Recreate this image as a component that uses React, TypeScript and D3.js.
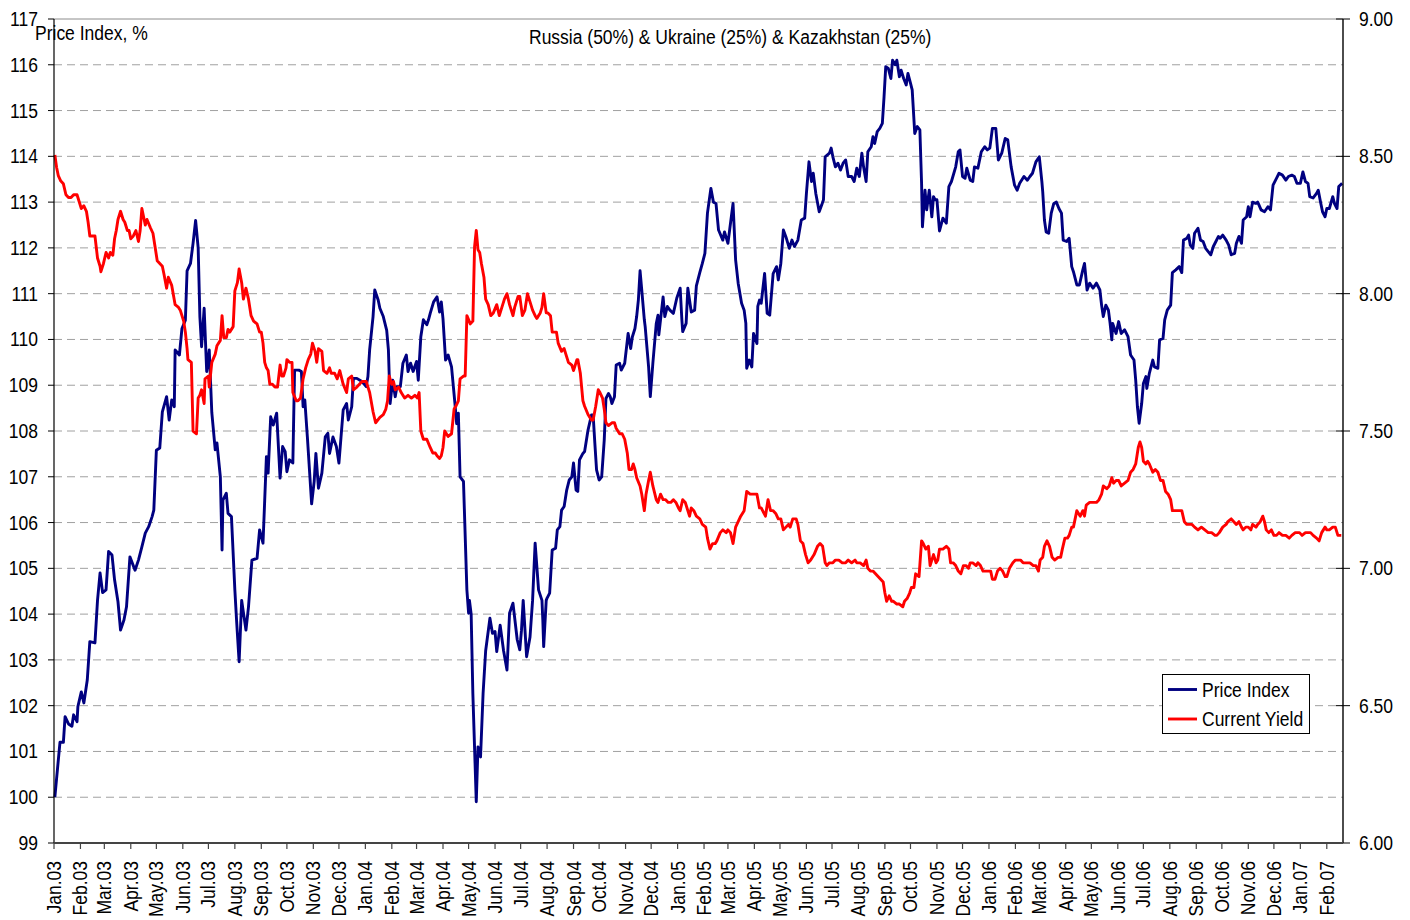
import React from 'react';
import * as d3 from 'd3';

// days since 1 Jan 2003, value
const priceIndexData: [number, number][] = [
  [1, 100.0], [7, 101.2], [11, 101.2], [13, 101.76], [17, 101.6], [21, 101.55], [23, 101.8], [27, 101.65],
  [28, 101.98], [32, 102.3], [35, 102.06], [39, 102.56], [42, 103.4], [48, 103.37], [51, 104.3], [54, 104.9],
  [57, 104.47], [61, 104.53], [64, 105.37], [68, 105.29], [71, 104.75], [75, 104.27], [78, 103.65], [82, 103.87],
  [85, 104.16], [89, 105.25], [95, 104.96], [99, 105.18], [103, 105.47], [107, 105.77], [111, 105.91], [115, 106.13],
  [117, 106.27], [120, 107.58], [124, 107.63], [127, 108.42], [132, 108.75], [135, 108.24], [138, 108.68], [141, 108.53],
  [142, 109.77], [147, 109.66], [150, 110.24], [154, 110.42], [156, 111.5], [160, 111.66], [163, 112.1], [166, 112.6],
  [169, 112.0], [171, 110.5], [173, 109.84], [176, 110.68], [179, 109.3], [182, 109.77], [185, 108.4], [189, 107.59],
  [191, 107.74], [195, 107.0], [197, 105.4], [198, 106.49], [202, 106.64], [204, 106.2], [208, 106.13], [212, 104.53],
  [214, 103.87], [217, 102.96], [220, 104.3], [225, 103.65], [228, 104.16], [232, 105.18], [238, 105.22], [241, 105.84],
  [245, 105.55], [247, 106.49], [249, 107.44], [251, 107.08], [254, 108.31], [257, 108.13], [261, 108.39], [265, 106.97],
  [268, 107.66], [271, 107.55], [273, 107.11], [276, 107.37], [280, 107.3], [282, 109.33], [287, 109.33], [290, 109.3],
  [292, 108.53], [294, 108.68], [297, 107.87], [302, 106.41], [305, 106.9], [307, 107.51], [310, 106.75], [314, 107.08],
  [318, 107.87], [321, 107.95], [323, 107.51], [327, 107.87], [331, 107.66], [334, 107.3], [339, 108.46], [343, 108.6],
  [345, 108.24], [349, 108.53], [351, 109.15], [355, 109.15], [361, 109.08], [366, 108.97], [368, 109.19], [370, 109.77],
  [374, 110.5], [376, 111.08], [380, 110.86], [382, 110.68], [386, 110.5], [390, 110.2], [392, 109.77], [394, 108.6],
  [397, 109.11], [400, 108.75], [402, 108.97], [406, 108.97], [409, 109.48], [413, 109.66], [415, 109.3], [418, 109.48],
  [421, 109.3], [425, 109.52], [427, 109.11], [430, 110.06], [433, 110.43], [437, 110.32], [439, 110.43], [441, 110.57],
  [445, 110.82], [449, 110.93], [452, 110.6], [454, 110.82], [456, 110.45], [459, 109.55], [462, 109.66], [466, 109.4],
  [470, 108.6], [472, 108.16], [474, 108.39], [476, 107.0], [480, 106.9], [484, 104.53], [486, 104.02], [487, 104.3],
  [489, 104.0], [491, 102.26], [495, 99.9], [497, 101.1], [500, 100.88], [503, 102.27], [506, 103.2], [511, 103.91],
  [514, 103.58], [517, 103.62], [519, 103.18], [523, 103.76], [527, 103.2], [531, 102.78], [534, 104.02], [538, 104.24],
  [543, 103.44], [546, 103.22], [548, 103.65], [550, 104.3], [554, 103.07], [558, 103.5], [561, 104.3], [564, 105.55],
  [568, 104.53], [572, 104.3], [573, 103.87], [574, 103.29], [577, 104.3], [578, 104.35], [581, 104.46], [584, 105.4],
  [588, 105.44], [590, 105.84], [593, 105.91], [595, 106.27], [598, 106.35], [601, 106.71], [604, 106.93], [607, 107.0],
  [609, 107.3], [612, 106.71], [614, 106.68], [616, 107.37], [620, 107.51], [622, 107.55], [626, 108.02], [630, 108.35],
  [632, 108.35], [634, 107.73], [636, 107.15], [639, 106.93], [642, 107.0], [645, 107.8], [647, 108.71], [650, 108.82],
  [652, 108.75], [654, 108.6], [657, 108.75], [659, 109.44], [663, 109.48], [665, 109.33], [669, 109.48], [673, 110.13],
  [676, 109.8], [678, 110.06], [681, 110.24], [683, 110.5], [685, 110.86], [687, 111.5], [689, 111.08], [692, 110.43],
  [693, 110.28], [697, 109.4], [699, 108.75], [702, 109.48], [706, 110.35], [708, 110.53], [709, 110.1], [714, 110.93],
  [716, 110.5], [719, 110.72], [722, 110.64], [726, 110.57], [730, 110.9], [734, 111.12], [736, 110.43], [737, 110.17],
  [741, 110.35], [743, 111.12], [747, 110.6], [751, 110.64], [753, 111.17], [757, 111.46], [760, 111.66], [763, 111.88],
  [766, 112.76], [770, 113.3], [773, 113.0], [776, 112.97], [779, 112.39], [784, 112.17], [786, 112.35], [790, 112.1],
  [792, 112.39], [796, 112.97], [799, 111.74], [802, 111.23], [806, 110.79], [809, 110.64], [811, 110.35], [812, 109.37],
  [815, 109.55], [818, 109.4], [820, 110.13], [824, 109.91], [825, 110.72], [827, 110.86], [829, 110.79], [833, 111.44],
  [836, 110.57], [839, 110.53], [843, 111.44], [847, 111.59], [849, 111.3], [852, 111.66], [855, 112.39], [858, 112.24],
  [862, 111.99], [865, 112.17], [868, 112.03], [872, 112.17], [876, 112.61], [880, 112.65], [882, 113.19], [885, 113.88],
  [888, 113.45], [890, 113.63], [893, 113.19], [897, 112.79], [900, 112.94], [902, 113.05], [904, 113.99], [909, 114.07],
  [911, 114.18], [913, 113.99], [916, 113.77], [919, 113.85], [922, 113.7], [925, 113.85], [928, 113.92], [931, 113.56],
  [935, 113.56], [938, 113.45], [941, 113.74], [944, 113.56], [947, 114.07], [949, 113.77], [952, 113.45], [954, 114.1],
  [958, 114.21], [960, 114.43], [962, 114.28], [965, 114.54], [968, 114.61], [971, 114.72], [973, 115.3], [975, 115.96],
  [978, 115.92], [981, 115.7], [983, 116.1], [986, 116.0], [988, 116.1], [991, 115.74], [993, 115.88], [996, 115.7],
  [999, 115.56], [1001, 115.81], [1004, 115.6], [1006, 115.45], [1009, 114.5], [1012, 114.65], [1015, 114.58], [1017, 113.41],
  [1018, 112.46], [1021, 113.26], [1023, 112.83], [1026, 113.26], [1029, 112.68], [1031, 113.12], [1033, 113.05], [1035, 113.05],
  [1038, 112.37], [1042, 112.65], [1046, 112.54], [1049, 113.34], [1052, 113.45], [1057, 113.77], [1060, 114.1], [1062, 114.14],
  [1065, 113.56], [1068, 113.52], [1070, 113.74], [1074, 113.48], [1077, 113.45], [1079, 113.77], [1083, 113.74], [1087, 114.1],
  [1091, 114.21], [1094, 114.14], [1097, 114.18], [1100, 114.61], [1104, 114.61], [1107, 113.92], [1111, 114.07], [1115, 114.39],
  [1118, 114.36], [1122, 113.77], [1126, 113.37], [1129, 113.26], [1132, 113.41], [1137, 113.56], [1141, 113.48], [1144, 113.56],
  [1147, 113.63], [1151, 113.88], [1155, 113.99], [1158, 113.45], [1159, 113.23], [1161, 112.61], [1163, 112.35], [1166, 112.32],
  [1169, 112.76], [1172, 112.97], [1175, 113.0], [1178, 112.86], [1181, 112.76], [1183, 112.17], [1187, 112.14], [1190, 112.21],
  [1193, 111.59], [1195, 111.48], [1199, 111.19], [1202, 111.19], [1206, 111.52], [1208, 111.66], [1211, 111.08], [1214, 111.23],
  [1218, 111.12], [1222, 111.23], [1226, 111.08], [1228, 110.75], [1230, 110.5], [1233, 110.75], [1236, 110.64], [1238, 110.35],
  [1240, 109.99], [1241, 110.35], [1245, 110.13], [1248, 110.39], [1251, 110.13], [1255, 110.21], [1259, 110.06], [1262, 109.66],
  [1266, 109.55], [1268, 109.11], [1270, 108.53], [1272, 108.17], [1275, 108.6], [1277, 109.04], [1280, 109.19], [1281, 108.93],
  [1284, 109.26], [1288, 109.55], [1290, 109.4], [1294, 109.37], [1296, 109.99], [1300, 110.02], [1302, 110.43], [1305, 110.64],
  [1309, 110.75], [1311, 111.46], [1315, 111.52], [1319, 111.59], [1322, 111.46], [1324, 112.17], [1328, 112.21], [1330, 112.28],
  [1332, 112.06], [1335, 111.99], [1337, 112.32], [1341, 112.43], [1344, 112.17], [1347, 112.14], [1350, 111.99], [1353, 111.92],
  [1356, 111.85], [1359, 112.03], [1362, 112.14], [1365, 112.25], [1367, 112.21], [1370, 112.28], [1374, 112.17], [1377, 112.06],
  [1380, 111.85], [1384, 111.88], [1386, 112.1], [1389, 112.25], [1392, 112.1], [1394, 112.61], [1398, 112.68], [1400, 112.9],
  [1402, 112.68], [1405, 113.0], [1409, 112.97], [1411, 113.0], [1415, 112.83], [1419, 112.79], [1423, 112.9], [1426, 112.83],
  [1429, 113.37], [1433, 113.52], [1436, 113.63], [1440, 113.59], [1444, 113.48], [1447, 113.56], [1451, 113.59], [1454, 113.56],
  [1457, 113.41], [1461, 113.41], [1464, 113.66], [1467, 113.45], [1470, 113.41], [1472, 113.12], [1476, 113.09], [1480, 113.19],
  [1482, 113.26], [1485, 112.97], [1487, 112.79], [1490, 112.68], [1492, 112.86], [1495, 112.86], [1499, 113.12], [1501, 112.97],
  [1504, 112.86], [1506, 113.34], [1510, 113.41],
];

const currentYieldData: [number, number][] = [
  [1, 8.505], [3, 8.46], [5, 8.43], [8, 8.41], [11, 8.4], [14, 8.36], [17, 8.35], [20, 8.35], [23, 8.36], [27, 8.36],
  [30, 8.33], [32, 8.31], [35, 8.32], [38, 8.3], [40, 8.26], [42, 8.21], [46, 8.21], [48, 8.21], [51, 8.13], [54, 8.1],
  [55, 8.08], [58, 8.11], [61, 8.15], [64, 8.13], [66, 8.15], [69, 8.14], [71, 8.2], [73, 8.23], [75, 8.27], [78, 8.3],
  [81, 8.27], [83, 8.26], [86, 8.23], [88, 8.23], [90, 8.2], [93, 8.21], [96, 8.23], [99, 8.19], [101, 8.23], [103, 8.31],
  [107, 8.25], [109, 8.27], [113, 8.24], [116, 8.22], [118, 8.18], [121, 8.12], [124, 8.11], [127, 8.1], [129, 8.07], [132, 8.02],
  [134, 8.06], [138, 8.03], [142, 7.96], [146, 7.95], [148, 7.94], [150, 7.92], [152, 7.9], [154, 7.86], [156, 7.8], [157, 7.76],
  [161, 7.75], [163, 7.5], [167, 7.49], [169, 7.62], [171, 7.63], [173, 7.65], [176, 7.6], [177, 7.69], [181, 7.7], [182, 7.66],
  [185, 7.75], [189, 7.78], [191, 7.81], [195, 7.83], [197, 7.92], [199, 7.84], [202, 7.84], [204, 7.87], [206, 7.86], [210, 7.88],
  [212, 8.01], [215, 8.04], [217, 8.09], [220, 8.04], [222, 7.98], [225, 8.02], [228, 7.98], [231, 7.92], [234, 7.9], [238, 7.89],
  [241, 7.86], [243, 7.86], [245, 7.82], [247, 7.75], [249, 7.73], [251, 7.72], [253, 7.67], [256, 7.67], [259, 7.66], [262, 7.66],
  [265, 7.74], [267, 7.7], [269, 7.7], [272, 7.73], [273, 7.76], [276, 7.75], [279, 7.75], [280, 7.64], [284, 7.61], [286, 7.61],
  [289, 7.62], [292, 7.69], [295, 7.73], [298, 7.76], [301, 7.78], [303, 7.82], [306, 7.79], [308, 7.75], [310, 7.8], [314, 7.79],
  [316, 7.72], [320, 7.71], [323, 7.73], [325, 7.71], [329, 7.71], [332, 7.69], [335, 7.72], [339, 7.67], [343, 7.64], [345, 7.69],
  [349, 7.7], [351, 7.65], [355, 7.66], [361, 7.68], [366, 7.68], [370, 7.64], [374, 7.57], [377, 7.53], [382, 7.55], [386, 7.56],
  [389, 7.58], [391, 7.61], [393, 7.7], [396, 7.67], [398, 7.68], [400, 7.65], [404, 7.66], [407, 7.64], [411, 7.62], [415, 7.63],
  [419, 7.62], [423, 7.63], [426, 7.62], [428, 7.64], [430, 7.5], [433, 7.47], [437, 7.47], [441, 7.44], [444, 7.42], [447, 7.42],
  [449, 7.41], [452, 7.4], [454, 7.41], [456, 7.44], [458, 7.5], [462, 7.48], [466, 7.49], [469, 7.58], [471, 7.59], [474, 7.61],
  [476, 7.69], [480, 7.7], [482, 7.7], [484, 7.92], [488, 7.89], [491, 7.9], [493, 8.17], [495, 8.23], [497, 8.16], [499, 8.15],
  [501, 8.11], [504, 8.06], [506, 7.98], [509, 7.96], [512, 7.92], [515, 7.93], [519, 7.96], [522, 7.92], [525, 7.95], [528, 7.98],
  [531, 8.0], [534, 7.96], [538, 7.92], [540, 7.95], [544, 7.99], [546, 7.99], [549, 7.92], [552, 7.94], [555, 8.0], [558, 7.97],
  [561, 7.94], [564, 7.92], [566, 7.91], [570, 7.93], [572, 7.95], [574, 8.0], [577, 7.93], [579, 7.93], [582, 7.92], [584, 7.86],
  [589, 7.86], [591, 7.82], [595, 7.79], [598, 7.8], [601, 7.77], [603, 7.75], [607, 7.74], [609, 7.72], [613, 7.76], [614, 7.76],
  [617, 7.71], [620, 7.61], [622, 7.59], [626, 7.56], [630, 7.54], [632, 7.54], [635, 7.59], [638, 7.65], [640, 7.64], [643, 7.62],
  [645, 7.58], [647, 7.53], [650, 7.52], [654, 7.53], [657, 7.53], [659, 7.51], [663, 7.49], [666, 7.49], [669, 7.47], [672, 7.42],
  [674, 7.36], [677, 7.36], [679, 7.38], [681, 7.36], [683, 7.33], [687, 7.3], [689, 7.27], [692, 7.21], [694, 7.27], [697, 7.32],
  [699, 7.35], [702, 7.3], [706, 7.25], [708, 7.24], [711, 7.27], [714, 7.25], [717, 7.25], [720, 7.24], [723, 7.24], [726, 7.25],
  [729, 7.24], [732, 7.22], [734, 7.21], [737, 7.25], [740, 7.24], [745, 7.19], [747, 7.22], [750, 7.21], [753, 7.19], [757, 7.18],
  [760, 7.16], [764, 7.15], [766, 7.11], [769, 7.07], [772, 7.09], [775, 7.09], [777, 7.1], [781, 7.13], [784, 7.14], [788, 7.13],
  [790, 7.14], [793, 7.13], [796, 7.09], [799, 7.15], [802, 7.17], [805, 7.19], [809, 7.21], [812, 7.28], [816, 7.27], [822, 7.27],
  [824, 7.27], [827, 7.22], [829, 7.22], [834, 7.19], [837, 7.25], [840, 7.21], [843, 7.21], [846, 7.2], [849, 7.18], [852, 7.18],
  [855, 7.14], [858, 7.15], [861, 7.16], [863, 7.15], [866, 7.18], [870, 7.18], [872, 7.16], [875, 7.1], [878, 7.09], [881, 7.05],
  [884, 7.02], [887, 7.03], [891, 7.05], [895, 7.08], [898, 7.09], [901, 7.08], [904, 7.02], [906, 7.01], [909, 7.02], [913, 7.02],
  [916, 7.03], [920, 7.03], [924, 7.02], [928, 7.02], [931, 7.03], [935, 7.02], [939, 7.03], [941, 7.02], [945, 7.02], [949, 7.01],
  [952, 7.03], [954, 7.0], [957, 6.99], [960, 6.99], [963, 6.98], [966, 6.97], [969, 6.96], [972, 6.95], [974, 6.91], [976, 6.88],
  [979, 6.9], [982, 6.88], [984, 6.88], [988, 6.87], [991, 6.87], [995, 6.86], [997, 6.88], [1000, 6.89], [1003, 6.91], [1005, 6.93],
  [1008, 6.93], [1010, 6.98], [1014, 6.97], [1017, 7.1], [1019, 7.09], [1022, 7.07], [1025, 7.08], [1027, 7.01], [1031, 7.05], [1034, 7.02],
  [1036, 7.03], [1038, 7.07], [1042, 7.07], [1046, 7.08], [1049, 7.07], [1051, 7.02], [1054, 7.02], [1057, 7.01], [1060, 6.99], [1063, 6.98],
  [1066, 7.01], [1069, 7.01], [1072, 7.0], [1074, 7.02], [1077, 7.02], [1081, 7.01], [1083, 7.02], [1086, 7.01], [1089, 6.99], [1095, 6.99],
  [1098, 6.99], [1100, 6.96], [1103, 6.96], [1106, 6.99], [1109, 7.0], [1112, 6.99], [1115, 6.97], [1117, 6.97], [1120, 7.0], [1124, 7.02],
  [1127, 7.03], [1130, 7.03], [1133, 7.03], [1136, 7.02], [1140, 7.02], [1144, 7.02], [1148, 7.01], [1151, 7.01], [1154, 6.99], [1156, 7.03],
  [1159, 7.04], [1161, 7.08], [1164, 7.1], [1167, 7.08], [1170, 7.04], [1173, 7.03], [1177, 7.04], [1180, 7.04], [1182, 7.07], [1185, 7.11],
  [1188, 7.11], [1190, 7.12], [1193, 7.15], [1195, 7.15], [1199, 7.21], [1201, 7.2], [1203, 7.19], [1206, 7.21], [1208, 7.19], [1210, 7.23],
  [1214, 7.24], [1218, 7.24], [1222, 7.24], [1225, 7.25], [1228, 7.27], [1230, 7.3], [1234, 7.29], [1237, 7.3], [1240, 7.33], [1242, 7.31],
  [1245, 7.32], [1248, 7.32], [1251, 7.3], [1255, 7.31], [1259, 7.32], [1262, 7.35], [1265, 7.36], [1268, 7.38], [1271, 7.44], [1273, 7.46],
  [1275, 7.44], [1277, 7.39], [1280, 7.38], [1282, 7.39], [1284, 7.38], [1288, 7.35], [1291, 7.36], [1294, 7.35], [1297, 7.32], [1300, 7.32],
  [1303, 7.28], [1306, 7.27], [1309, 7.25], [1311, 7.21], [1315, 7.21], [1320, 7.21], [1322, 7.21], [1325, 7.17], [1328, 7.16], [1331, 7.16],
  [1334, 7.16], [1337, 7.15], [1341, 7.14], [1345, 7.15], [1349, 7.14], [1353, 7.13], [1357, 7.13], [1361, 7.12], [1363, 7.12], [1366, 7.13],
  [1370, 7.15], [1374, 7.16], [1376, 7.17], [1380, 7.18], [1383, 7.17], [1386, 7.16], [1389, 7.17], [1392, 7.15], [1394, 7.14], [1397, 7.15],
  [1400, 7.15], [1403, 7.14], [1405, 7.16], [1409, 7.15], [1411, 7.16], [1414, 7.17], [1417, 7.19], [1419, 7.17], [1421, 7.14], [1424, 7.13],
  [1427, 7.14], [1430, 7.12], [1433, 7.12], [1436, 7.13], [1440, 7.12], [1444, 7.12], [1448, 7.11], [1451, 7.12], [1455, 7.13], [1460, 7.13],
  [1463, 7.12], [1467, 7.13], [1473, 7.13], [1476, 7.12], [1480, 7.11], [1483, 7.1], [1486, 7.13], [1490, 7.15], [1492, 7.14], [1495, 7.14],
  [1499, 7.15], [1502, 7.15], [1505, 7.12], [1509, 7.12],
];

const leftTicks = d3.range(99, 118, 1);
const rightTicks = [6.0, 6.5, 7.0, 7.5, 8.0, 8.5, 9.0];
const legendItems = [
  { name: 'Price Index', color: '#000080' },
  { name: 'Current Yield', color: '#ff0000' },
];
const chartTitle = 'Russia (50%) & Ukraine (25%) & Kazakhstan (25%)';
const leftAxisTitle = 'Price Index, %';

const W = 1410, H = 920;
const plot = { left: 54, right: 1343, top: 19, bottom: 843 };
const startDate = new Date(2003, 0, 1);
const endDate = d3.timeDay.offset(startDate, 1511);
const FONT = '"Liberation Sans", Arial, sans-serif';
const SX = 0.875; // narrow font look

const toDate = (d: number) => d3.timeDay.offset(startDate, d);

const T = ({ x, y, anchor = 'start', rot = 0, dy = '0', children }: any) => (
  <text
    transform={`translate(${x},${y}) rotate(${rot}) scale(${SX},1)`}
    textAnchor={anchor}
    dy={dy}
    fontFamily={FONT}
    fontSize={20}
    fill="#000"
  >
    {children}
  </text>
);

export default function App() {
  const x = d3.scaleTime().domain([startDate, endDate]).range([plot.left, plot.right]);
  const yL = d3.scaleLinear().domain([99, 117]).range([plot.bottom, plot.top]);
  const yR = d3.scaleLinear().domain([6, 9]).range([plot.bottom, plot.top]);

  const piLine = d3
    .line<[number, number]>()
    .x(d => x(toDate(d[0])))
    .y(d => yL(d[1]));
  const cyLine = d3
    .line<[number, number]>()
    .x(d => x(toDate(d[0])))
    .y(d => yR(d[1]));

  const months = d3.timeMonth.range(startDate, endDate);
  const fmt = d3.timeFormat('%b.%y');

  return (
    <svg
      width={W}
      height={H}
      style={{ position: 'absolute', left: 0, top: 0, background: '#fff' }}
    >
      <rect width={W} height={H} fill="#fff" />
      {/* gridlines */}
      {leftTicks
        .filter(t => t > 99 && t < 117)
        .map(t => (
          <line
            key={'g' + t}
            x1={plot.left}
            x2={plot.right}
            y1={yL(t)}
            y2={yL(t)}
            stroke="#a0a0a0"
            strokeWidth={1}
            strokeDasharray="8,5"
          />
        ))}
      <line x1={plot.left} x2={plot.right} y1={plot.top} y2={plot.top} stroke="#8c8c8c" strokeWidth={1} />

      {/* series */}
      <path d={piLine(priceIndexData) || ''} fill="none" stroke="#000080" strokeWidth={2.9} strokeLinejoin="round" />
      <path d={cyLine(currentYieldData) || ''} fill="none" stroke="#ff0000" strokeWidth={2.9} strokeLinejoin="round" />

      {/* left axis */}
      <line x1={plot.left} x2={plot.left} y1={plot.top} y2={plot.bottom} stroke="#000" strokeWidth={1.2} />
      {leftTicks.map(t => (
        <g key={'l' + t}>
          <line x1={plot.left - 6} x2={plot.left} y1={yL(t)} y2={yL(t)} stroke="#000" strokeWidth={1} />
          <T x={38} y={yL(t)} anchor="end" dy="0.35em">
            {t}
          </T>
        </g>
      ))}

      {/* right axis */}
      <line x1={plot.right} x2={plot.right} y1={plot.top} y2={plot.bottom} stroke="#000" strokeWidth={1.4} />
      {rightTicks.map(t => (
        <g key={'r' + t}>
          <line x1={plot.right - 7} x2={plot.right + 7} y1={yR(t)} y2={yR(t)} stroke="#000" strokeWidth={1} />
          <T x={1359} y={yR(t)} dy="0.35em">
            {t.toFixed(2)}
          </T>
        </g>
      ))}

      {/* bottom axis */}
      <line x1={plot.left} x2={plot.right} y1={plot.bottom} y2={plot.bottom} stroke="#444" strokeWidth={2} />
      {months.map(m => (
        <g key={'m' + m.getTime()}>
          <line x1={x(m)} x2={x(m)} y1={plot.bottom} y2={plot.bottom + 6} stroke="#444" strokeWidth={1.2} />
          <T x={x(m)} y={861} anchor="end" rot={-90} dy="0.35em">
            {fmt(m)}
          </T>
        </g>
      ))}

      {/* titles */}
      <T x={35} y={40}>{leftAxisTitle}</T>
      <T x={529} y={44}>{chartTitle}</T>

      {/* legend */}
      <rect x={1162.5} y={674.5} width={147} height={59} fill="#fff" stroke="#000" strokeWidth={1} />
      {legendItems.map((item, i) => (
        <g key={item.name}>
          <line
            x1={1168}
            x2={1197}
            y1={689.5 + i * 29.5}
            y2={689.5 + i * 29.5}
            stroke={item.color}
            strokeWidth={2.9}
          />
          <T x={1202} y={689.5 + i * 29.5} dy="0.35em">
            {item.name}
          </T>
        </g>
      ))}
    </svg>
  );
}
